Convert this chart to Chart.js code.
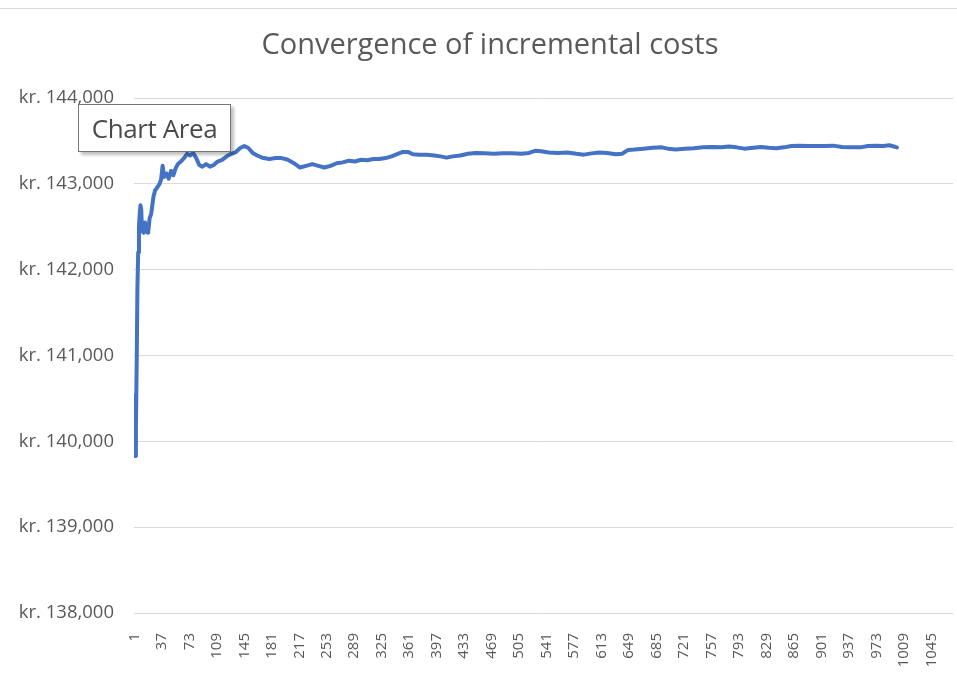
<!DOCTYPE html>
<html lang="en">
<head>
    <meta charset="UTF-8">
    <title>Convergence of incremental costs</title>
    <script src="https://cdn.jsdelivr.net/npm/chart.js"></script>
    <style>
        body { margin: 0; background: #fff; }
        .wrap { position: relative; width: 957px; height: 675px; }
        .top-line { position: absolute; left: 0; right: 0; top: 8px; border-top: 1px solid #d9d9d9; }
        .chart-tip {
            position: absolute; left: 78px; top: 104px; width: 153px; height: 48px;
            background: #fff; border: 1px solid #767676; box-sizing: border-box;
            box-shadow: 3px 3px 3px rgba(0, 0, 0, 0.25);
            font: 26px "Open Sans", sans-serif; color: #4a4a4a;
            line-height: 46px; text-align: center; letter-spacing: -0.4px;
        }
    </style>
</head>
<body>
    <div class="wrap">
        <canvas id="costChart" width="957" height="675"></canvas>
        <div class="top-line"></div>
        <div class="chart-tip">Chart Area</div>
    </div>

    <script>
        // iteration number (category) and running incremental cost
        const iterations = [
            1, 2, 3, 4, 5, 6, 7, 8, 9, 10, 11, 13, 15, 17, 19, 21, 23, 26, 28, 31,
            34, 36, 38, 40, 43, 46, 49, 52, 55, 58, 62, 66, 70, 74, 78, 82, 86, 90, 95, 100,
            105, 110, 116, 122, 128, 134, 140, 145, 150, 156, 162, 170, 178, 186, 194, 202, 210, 218, 226, 234,
            242, 250, 258, 266, 274, 282, 290, 298, 306, 314, 322, 330, 338, 346, 352, 360, 366, 374, 384, 394,
            402, 410, 418, 428, 438, 448, 460, 472, 484, 496, 508, 518, 526, 534, 544, 556, 568, 580, 590, 600,
            610, 620, 632, 640, 648, 656, 668, 680, 692, 700, 710, 722, 734, 746, 758, 770, 780, 790, 800, 812,
            822, 832, 842, 852, 862, 872, 884, 896, 906, 916, 928, 940, 952, 962, 972, 982, 990, 996, 1000
        ];
        const costs = [
            140530, 139830, 140150, 140900, 141800, 142200, 142500, 142650, 142750, 142700, 142450, 142430, 142550, 142440, 142430, 142600, 142650, 142850, 142920, 142960,
            143000, 143050, 143210, 143080, 143120, 143060, 143150, 143100, 143180, 143230, 143260, 143300, 143350, 143330, 143360, 143300, 143220, 143200, 143230, 143200,
            143220, 143260, 143280, 143320, 143350, 143370, 143420, 143440, 143420, 143360, 143330, 143300, 143290, 143300, 143300, 143280, 143240, 143190, 143210, 143230,
            143210, 143190, 143210, 143240, 143250, 143270, 143260, 143280, 143275, 143290, 143290, 143300, 143320, 143350, 143370, 143370, 143345, 143340, 143340, 143330,
            143320, 143305, 143320, 143330, 143350, 143360, 143355, 143350, 143355, 143355, 143350, 143360, 143385, 143380, 143365, 143360, 143365, 143350, 143340, 143355,
            143365, 143360, 143345, 143350, 143395, 143400, 143410, 143420, 143425, 143410, 143400, 143410, 143415, 143425, 143430, 143425, 143435, 143425, 143410, 143420,
            143430, 143420, 143415, 143425, 143440, 143445, 143440, 143440, 143440, 143445, 143430, 143425, 143425, 143440, 143445, 143440, 143450, 143435, 143425
        ];
        const xTickLabels = [1, 37, 73, 109, 145, 181, 217, 253, 289, 325, 361, 397, 433, 469, 505, 541, 577, 613, 649, 685, 721, 757, 793, 829, 865, 901, 937, 973, 1009, 1045];
        const yTicks = [138000, 139000, 140000, 141000, 142000, 143000, 144000];
        const categoryCount = 1073;
        const chartTitle = 'Convergence of incremental costs';

        const points = iterations.map((it, i) => ({ x: it, y: costs[i] }));
        const ctx = document.getElementById('costChart').getContext('2d');

        // title sits a little right of the canvas centre, like the Excel original
        const titlePlugin = {
            id: 'excelTitle',
            afterDraw(chart) {
                const c = chart.ctx;
                c.save();
                c.font = '29px "Open Sans"';
                c.fillStyle = '#595959';
                c.textAlign = 'center';
                c.textBaseline = 'middle';
                c.fillText(chartTitle, 490, 46);
                c.restore();
            }
        };

        new Chart(ctx, {
            type: 'line',
            data: {
                datasets: [{
                    label: 'Incremental costs',
                    data: points,
                    borderColor: '#4472C4',
                    borderWidth: 4,
                    borderJoinStyle: 'round',
                    borderCapStyle: 'round',
                    pointRadius: 0,
                    tension: 0,
                    fill: false
                }]
            },
            plugins: [titlePlugin],
            options: {
                responsive: false,
                animation: false,
                layout: { padding: { left: 0, right: 4, top: 98, bottom: 0 } },
                plugins: {
                    legend: { display: false },
                    tooltip: { enabled: false },
                    title: { display: false }
                },
                scales: {
                    x: {
                        type: 'linear',
                        min: 0.5,
                        max: categoryCount + 0.5,
                        afterBuildTicks: scale => {
                            scale.ticks = xTickLabels.map(v => ({ value: v }));
                        },
                        afterFit: scale => {
                            scale.height = 62;
                            scale.paddingLeft = 0;
                            scale.paddingRight = 0;
                        },
                        grid: { display: false },
                        border: { display: false },
                        ticks: {
                            autoSkip: false,
                            minRotation: 90,
                            maxRotation: 90,
                            padding: 12,
                            color: '#595959',
                            font: { family: 'Open Sans', size: 15 },
                            callback: v => String(v)
                        }
                    },
                    y: {
                        min: 138000,
                        max: 144000,
                        afterBuildTicks: scale => {
                            scale.ticks = yTicks.map(v => ({ value: v }));
                        },
                        afterFit: scale => { scale.width = 134; },
                        grid: { color: '#d9d9d9', lineWidth: 1, drawTicks: false },
                        border: { display: false },
                        ticks: {
                            padding: 20,
                            color: '#595959',
                            font: { family: 'Open Sans', size: 18.5 },
                            callback: v => 'kr. ' + v.toLocaleString('en-US')
                        }
                    }
                }
            }
        });
    </script>
</body>
</html>
